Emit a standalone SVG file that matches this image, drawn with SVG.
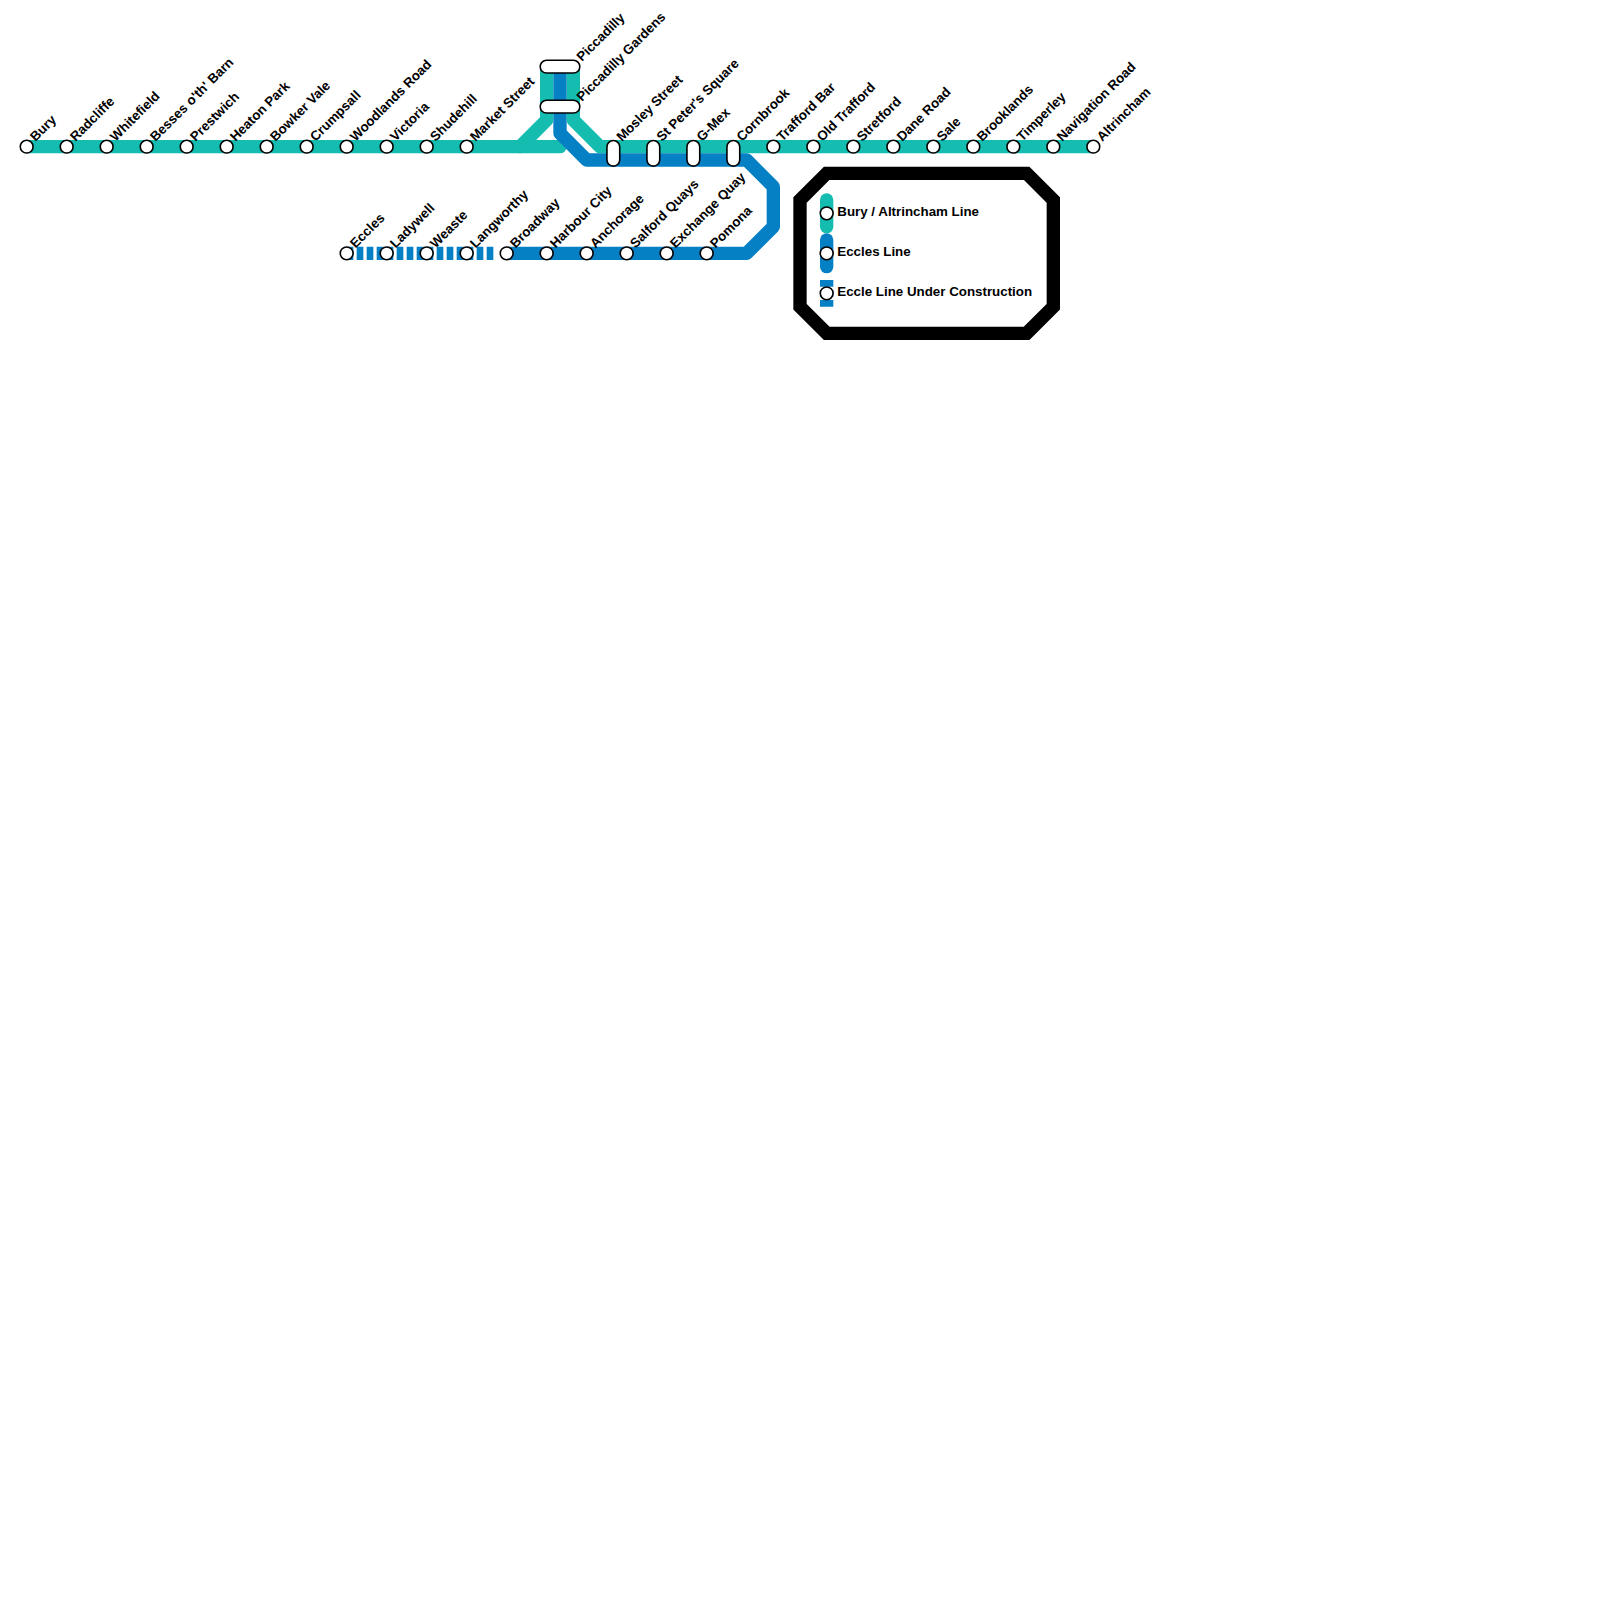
<svg xmlns="http://www.w3.org/2000/svg" width="1600" height="1600" viewBox="0 0 1600 1600">
<style>
.l{fill:none;stroke-width:13.33;stroke-linejoin:round}
.t{stroke:#15bcb0}.b{stroke:#0580c4}
.d{stroke-dasharray:6.67 3.33}
.s{fill:#fff;stroke:#000;stroke-width:1.6}
text{font-family:"Liberation Sans",Arial,sans-serif;font-weight:700;font-size:13.33px;fill:#000}
</style>
<defs>
<circle id="st" class="s" r="6.4"/>
<rect id="pv" class="s" x="-6.4" y="-12.8" width="12.8" height="25.6" rx="6.4"/>
<rect id="ph" class="s" x="-19.8" y="-6.4" width="39.6" height="12.8" rx="6.4"/>
</defs>
<rect width="1600" height="1600" fill="#fff"/>
<g id="connectors">
<path class="l t" d="M26.67 146.67H520L546.67 120V66.67"/>
<path class="l t" stroke-linecap="round" d="M520 146.67H560"/>
<path class="l t" d="M573.33 66.67V120L600 146.67H1093.33"/>
<path class="l b" d="M560 66.67V133.33L586.67 160H746.67L773.33 186.67V226.67L746.67 253.33H506.67"/>
<path class="l b d" d="M346.67 253.33H493.33"/>
<path class="l t" stroke-linecap="round" d="M826.67 200V226.67"/>
<path class="l b" stroke-linecap="round" d="M826.67 240V266.67"/>
<path class="l b d" d="M826.67 280V306.67"/>
<path d="M826.67 173.33H1026.67L1053.33 200V306.67L1026.67 333.33H826.67L800 306.67V200Z" fill="none" stroke="#000" stroke-width="13.33"/>
</g>
<g id="n-bury"><use href="#st" x="26.67" y="146.67"/><text transform="translate(35.5 142) rotate(-45)">Bury</text></g>
<g id="n-radcliffe"><use href="#st" x="66.67" y="146.67"/><text transform="translate(75.5 142) rotate(-45)">Radcliffe</text></g>
<g id="n-whitefield"><use href="#st" x="106.67" y="146.67"/><text transform="translate(115.5 142) rotate(-45)">Whitefield</text></g>
<g id="n-besses"><use href="#st" x="146.67" y="146.67"/><text transform="translate(155.5 142) rotate(-45)">Besses o'th' Barn</text></g>
<g id="n-prestwich"><use href="#st" x="186.67" y="146.67"/><text transform="translate(195.5 142) rotate(-45)">Prestwich</text></g>
<g id="n-heaton"><use href="#st" x="226.67" y="146.67"/><text transform="translate(235.5 142) rotate(-45)">Heaton Park</text></g>
<g id="n-bowker"><use href="#st" x="266.67" y="146.67"/><text transform="translate(275.5 142) rotate(-45)">Bowker Vale</text></g>
<g id="n-crumpsall"><use href="#st" x="306.67" y="146.67"/><text transform="translate(315.5 142) rotate(-45)">Crumpsall</text></g>
<g id="n-woodlands"><use href="#st" x="346.67" y="146.67"/><text transform="translate(355.5 142) rotate(-45)">Woodlands Road</text></g>
<g id="n-victoria"><use href="#st" x="386.67" y="146.67"/><text transform="translate(395.5 142) rotate(-45)">Victoria</text></g>
<g id="n-shudehill"><use href="#st" x="426.67" y="146.67"/><text transform="translate(435.5 142) rotate(-45)">Shudehill</text></g>
<g id="n-market"><use href="#st" x="466.67" y="146.67"/><text transform="translate(475.5 142) rotate(-45)">Market Street</text></g>
<g id="n-piccadilly"><use href="#ph" x="560" y="66.67"/><text transform="translate(582 62) rotate(-45)">Piccadilly</text></g>
<g id="n-gardens"><use href="#ph" x="560" y="106.67"/><text transform="translate(582 102) rotate(-45)">Piccadilly Gardens</text></g>
<g id="n-mosley"><use href="#pv" x="613.33" y="153.33"/><text transform="translate(622 142) rotate(-45)">Mosley Street</text></g>
<g id="n-peters"><use href="#pv" x="653.33" y="153.33"/><text transform="translate(662 142) rotate(-45)">St Peter's Square</text></g>
<g id="n-gmex"><use href="#pv" x="693.33" y="153.33"/><text transform="translate(702 142) rotate(-45)">G-Mex</text></g>
<g id="n-cornbrook"><use href="#pv" x="733.33" y="153.33"/><text transform="translate(742 142) rotate(-45)">Cornbrook</text></g>
<g id="n-trafford"><use href="#st" x="773.33" y="146.67"/><text transform="translate(782.2 142) rotate(-45)">Trafford Bar</text></g>
<g id="n-old"><use href="#st" x="813.33" y="146.67"/><text transform="translate(822.2 142) rotate(-45)">Old Trafford</text></g>
<g id="n-stretford"><use href="#st" x="853.33" y="146.67"/><text transform="translate(862.2 142) rotate(-45)">Stretford</text></g>
<g id="n-dane"><use href="#st" x="893.33" y="146.67"/><text transform="translate(902.2 142) rotate(-45)">Dane Road</text></g>
<g id="n-sale"><use href="#st" x="933.33" y="146.67"/><text transform="translate(942.2 142) rotate(-45)">Sale</text></g>
<g id="n-brooklands"><use href="#st" x="973.33" y="146.67"/><text transform="translate(982.2 142) rotate(-45)">Brooklands</text></g>
<g id="n-timperley"><use href="#st" x="1013.33" y="146.67"/><text transform="translate(1022.2 142) rotate(-45)">Timperley</text></g>
<g id="n-navigation"><use href="#st" x="1053.33" y="146.67"/><text transform="translate(1062.2 142) rotate(-45)">Navigation Road</text></g>
<g id="n-altrincham"><use href="#st" x="1093.33" y="146.67"/><text transform="translate(1102.2 142) rotate(-45)">Altrincham</text></g>
<g id="n-eccles"><use href="#st" x="346.67" y="253.33"/><text transform="translate(355.5 248.67) rotate(-45)">Eccles</text></g>
<g id="n-ladywell"><use href="#st" x="386.67" y="253.33"/><text transform="translate(395.5 248.67) rotate(-45)">Ladywell</text></g>
<g id="n-weaste"><use href="#st" x="426.67" y="253.33"/><text transform="translate(435.5 248.67) rotate(-45)">Weaste</text></g>
<g id="n-langworthy"><use href="#st" x="466.67" y="253.33"/><text transform="translate(475.5 248.67) rotate(-45)">Langworthy</text></g>
<g id="n-broadway"><use href="#st" x="506.67" y="253.33"/><text transform="translate(515.5 248.67) rotate(-45)">Broadway</text></g>
<g id="n-harbour"><use href="#st" x="546.67" y="253.33"/><text transform="translate(555.5 248.67) rotate(-45)">Harbour City</text></g>
<g id="n-anchorage"><use href="#st" x="586.67" y="253.33"/><text transform="translate(595.5 248.67) rotate(-45)">Anchorage</text></g>
<g id="n-salford"><use href="#st" x="626.67" y="253.33"/><text transform="translate(635.5 248.67) rotate(-45)">Salford Quays</text></g>
<g id="n-exchange"><use href="#st" x="666.67" y="253.33"/><text transform="translate(675.5 248.67) rotate(-45)">Exchange Quay</text></g>
<g id="n-pomona"><use href="#st" x="706.67" y="253.33"/><text transform="translate(715.5 248.67) rotate(-45)">Pomona</text></g>
<g id="legend-bury"><use href="#st" x="826.67" y="213.33"/><text x="837.3" y="216">Bury / Altrincham Line</text></g>
<g id="legend-eccles"><use href="#st" x="826.67" y="253.33"/><text x="837.3" y="256">Eccles Line</text></g>
<g id="legend-construction"><use href="#st" x="826.67" y="293.33"/><text x="837.3" y="296">Eccle Line Under Construction</text></g>
</svg>
